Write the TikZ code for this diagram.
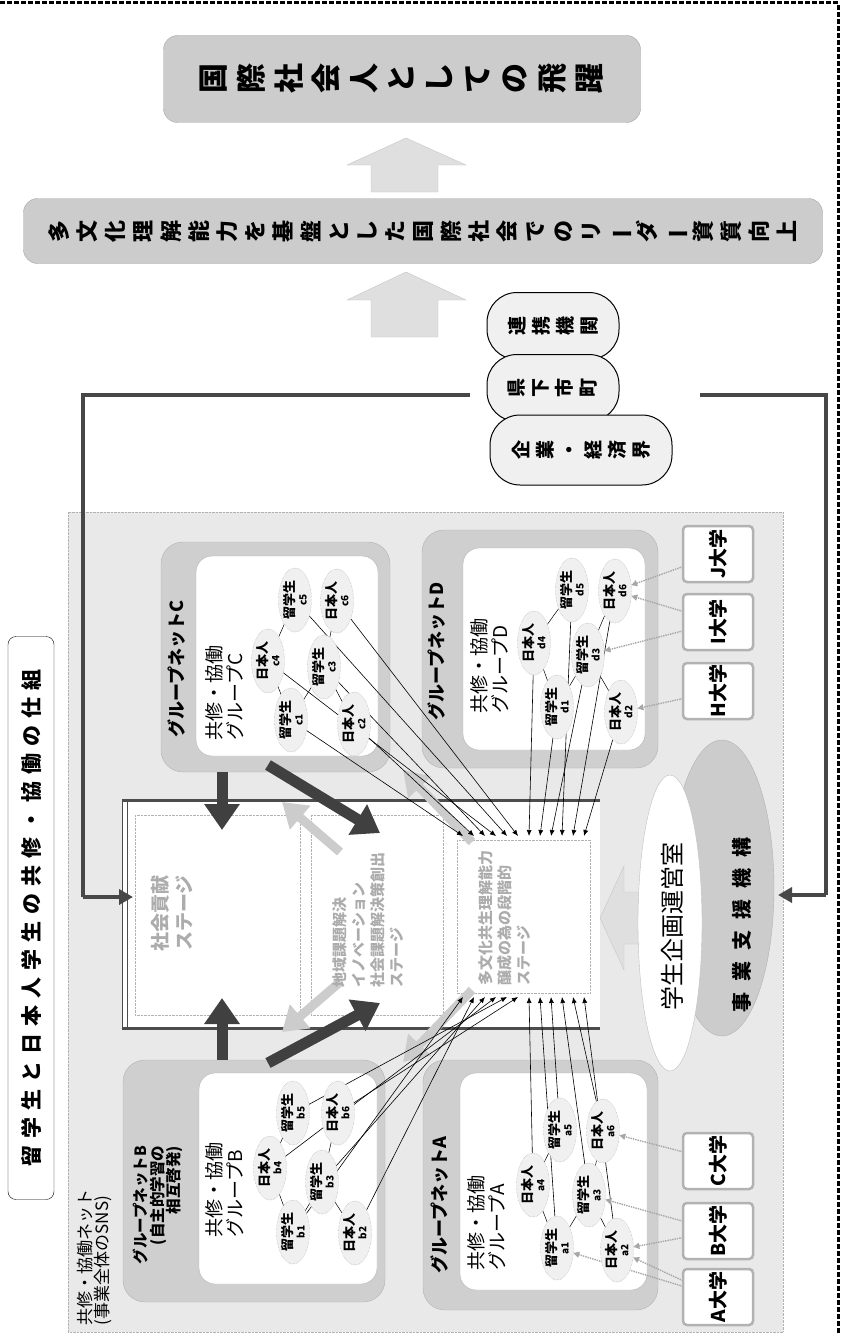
\documentclass[tikz,border=0pt]{standalone}
\usepackage{fontspec}
\setmainfont{Noto Sans CJK JP}
\usetikzlibrary{shapes.geometric,arrows.meta,calc}
\pgfdeclarelayer{bg}
\pgfdeclarelayer{mid}
\pgfsetlayers{bg,mid,main}
\newcommand{\vl}{\rotatebox[origin=c]{90}{ー}}
\newcommand{\sk}{\hspace{7pt}}
\newcommand{\skk}{\hspace{11pt}}
\begin{document}
\begin{tikzpicture}[x=1pt,y=-1pt,
  every node/.style={inner sep=0pt, outer sep=0pt},
  topbox/.style={draw=gray!70, fill=gray!40, rounded corners=14, rotate=90, align=center},
  pill/.style={draw=black, line width=1pt, fill=gray!12, rounded corners=30, rotate=90, align=center, font=\bfseries\fontsize{19}{24}\selectfont},
  gout/.style={fill=gray!38, draw=gray!60, rounded corners=22},
  gin/.style={fill=white, draw=gray!60, rounded corners=16},
  gname/.style={rotate=90, anchor=west, align=left, font=\bfseries\fontsize{18}{21}\selectfont},
  gsub/.style={rotate=90, anchor=west, align=left, font=\fontsize{19}{21}\selectfont},
  person/.style={ellipse, rotate=90, minimum width=64, minimum height=33, draw=gray!75, densely dotted, fill=gray!12, align=center, font=\bfseries\fontsize{13}{13}\selectfont},
  univ/.style={rotate=90, draw=gray!60, line width=2.5pt, fill=white, rounded corners=4, minimum width=56, minimum height=70, font=\bfseries\fontsize{19}{20}\selectfont},
  thinarr/.style={-{Latex[length=6pt,width=5pt]}, line width=0.6pt, black},
  link/.style={line width=0.5pt, black},
  uniarrow/.style={-{Triangle[length=6pt,width=6pt]}, gray!70, densely dotted, line width=1.4pt},
  dark/.style={-{Triangle[length=26pt,width=34pt]}, line width=11pt, black!75},
  light/.style={-{Triangle[length=24pt,width=30pt]}, line width=9pt, gray!40},
  bracket/.style={line width=4.5pt, black!72},
  bracketarr/.style={-{Triangle[length=14pt,width=15pt]}, line width=4.5pt, black!72},
  stagetext/.style={rotate=90, align=left, font=\bfseries\fontsize{15}{19}\selectfont, text=gray!65},
  blockarr/.style={fill=gray!25, draw=gray!45}
]
\useasboundingbox (0,0) rectangle (844,1335);

% outer border
\draw[line width=3pt, dash pattern=on 5pt off 2pt] (0,3) -- (838,3) -- (838,1335);

% ---------- top part ----------
\node[topbox, minimum width=87, minimum height=477, font=\bfseries\fontsize{30}{37.6}\selectfont] (leap) at (402,79)
  {国\\際\\社\\会\\人\\と\\し\\て\\の\\飛\\躍};
\node[topbox, minimum width=65, minimum height=799, font=\bfseries\fontsize{22}{28}\selectfont] (leader) at (423,231)
  {多\\文\\化\\理\\解\\能\\力\\を\\基\\盤\\と\\し\\た\\国\\際\\社\\会\\で\\の\\リ\\\vl\\ダ\\\vl\\資\\質\\向\\上};
\path[blockarr] (406,138) -- (466,165) -- (438,165) -- (438,192) -- (371,192) -- (371,165) -- (347,165) -- cycle;
\path[blockarr] (406,272) -- (466,300) -- (438,300) -- (438,337) -- (371,337) -- (371,300) -- (347,300) -- cycle;

\node[pill, minimum width=67, minimum height=132] (renkei) at (553,326) {連\\携\\機\\関};
\node[pill, minimum width=67, minimum height=132] (kenka) at (553,388) {県\\下\\市\\町};
\node[pill, minimum width=70, minimum height=182] (kigyo) at (581,450) {企\\業\\・\\経\\済\\界};

% title
\node[draw=black, fill=white, rounded corners=8, rotate=90, minimum width=563, minimum height=46,
      font=\bfseries\fontsize{21}{22}\selectfont] (title) at (31,918)
  {留\sk 学\sk 生\sk と\sk 日\sk 本\sk 人\sk 学\sk 生\sk の\sk 共\sk 修\sk ・\sk 協\sk 働\sk の\sk 仕\sk 組};

% ---------- background layer ----------
\begin{pgfonlayer}{bg}
  \path[fill=gray!17, draw=gray!60, densely dotted] (68,512) rectangle (783,1332);
  % groups
  \path[gout] (161,542) rectangle (390,772);
  \path[gin]  (196,556) rectangle (378,756);
  \path[gout] (422,530) rectangle (658,768);
  \path[gin]  (463,548) rectangle (645,750);
  \path[gout] (123,1060) rectangle (385,1302);
  \path[gin]  (199,1073) rectangle (377,1284);
  \path[gout] (423,1060) rectangle (658,1310);
  \path[gin]  (460,1073) rectangle (647,1290);
  % stage frame
  \fill[white] (122,800) rectangle (600,1028);
  \draw[gray!60, densely dotted] (135,815) rectangle (300,1015);
  \draw[gray!60, densely dotted] (311,815) rectangle (443,1015);
  \draw[gray!60, densely dotted] (457,840) rectangle (590,993);
  \draw[black!70] (122,800) -- (122,1028);
  \draw[black!70] (127,800) -- (127,1028);
  \draw[black!70, line width=3pt] (122,800) -- (600,800);
  \draw[black!70, line width=3pt] (122,1028) -- (600,1028);
  % support organisation
  \path[fill=gray!40, draw=gray!60] (722,888) ellipse [x radius=52, y radius=148];
  \path[blockarr] (600,918) -- (624,866) -- (624,892) -- (648,892) -- (648,944) -- (624,944) -- (624,970) -- cycle;
  \path[fill=white, draw=gray!50] (670,923) ellipse [x radius=32, y radius=148];
\end{pgfonlayer}

% stage texts
\node[stagetext, align=center, font=\bfseries\fontsize{19}{24}\selectfont] (st1) at (172,913) {社会貢献\\ステージ};
\node[stagetext] (st2) at (368,920) {地域課題解決\\イノベーション\\社会課題解決策創出\\ステージ};
\node[stagetext] (st3) at (505,918) {多文化共生理解能力\\醸成の為の段階的\\ステージ};

% support texts
\node[rotate=90, font=\fontsize{24}{24}\selectfont] (office) at (672,926) {学生企画運営室};
\node[rotate=90, font=\bfseries\fontsize{20}{20}\selectfont] (kiko) at (742,925) {事\skk 業\skk 支\skk 援\skk 機\skk 構};

% net label
\node[rotate=90, anchor=north west, align=left, font=\fontsize{17}{17}\selectfont] (snsnet) at (77,1325)
  {共修・協働ネット\\(事業全体のSNS)};

% group labels
\node[gname] (lC) at (177,737) {グループネットC};
\node[gname] (lD) at (437,720) {グループネットD};
\node[gname] (lA) at (440,1273) {グループネットA};
\node[rotate=90, anchor=center, align=right, font=\bfseries\fontsize{15.5}{16.5}\selectfont] (lB) at (158,1205)
  {グループネットB\\(自主的学習の\\相互啓発)};
\node[gsub] (sC) at (225,740) {共修・協働\\グループC};
\node[gsub] (sD) at (490,713) {共修・協働\\グループD};
\node[gsub] (sB) at (225,1237) {共修・協働\\グループB};
\node[gsub] (sA) at (487,1270) {共修・協働\\グループA};

% persons
\newcommand{\pers}[5]{\node[person] (#1) at (#2,#3) {#4\\[-1pt]{\fontsize{10}{10}\selectfont #5}};}
\pers{c1}{291}{720}{留学生}{c1}
\pers{c4}{268}{661}{日本人}{c4}
\pers{c5}{295}{600}{留学生}{c5}
\pers{c6}{337}{601}{日本人}{c6}
\pers{c3}{324}{667}{留学生}{c3}
\pers{c2}{354}{724}{日本人}{c2}
\pers{b1}{293}{1232}{留学生}{b1}
\pers{b4}{270}{1168}{日本人}{b4}
\pers{b3}{322}{1182}{留学生}{b3}
\pers{b5}{293}{1113}{留学生}{b5}
\pers{b6}{338}{1113}{日本人}{b6}
\pers{b2}{355}{1233}{日本人}{b2}
\pers{d4}{534}{643}{日本人}{d4}
\pers{d1}{557}{707}{留学生}{d1}
\pers{d5}{572}{590}{留学生}{d5}
\pers{d6}{615}{591}{日本人}{d6}
\pers{d3}{588}{655}{留学生}{d3}
\pers{d2}{621}{712}{日本人}{d2}
\pers{a4}{533}{1185}{日本人}{a4}
\pers{a1}{557}{1248}{留学生}{a1}
\pers{a5}{560}{1130}{留学生}{a5}
\pers{a6}{603}{1131}{日本人}{a6}
\pers{a3}{589}{1195}{留学生}{a3}
\pers{a2}{617}{1250}{日本人}{a2}

% universities
\node[univ] (uA) at (718,1297) {A大学};
\node[univ] (uB) at (718,1231) {B大学};
\node[univ] (uC) at (718,1161) {C大学};
\node[univ] (uH) at (718,691) {H大学};
\node[univ] (uI) at (718,622) {I大学};
\node[univ] (uJ) at (718,554) {J大学};

% coordinates
\foreach \k in {0,...,11} {
  \coordinate (t\k) at (463+11*\k,836);
  \coordinate (u\k) at (463+11*\k,997);
}
\coordinate (bl0) at (83,395);
\coordinate (bl1) at (83,897);
\coordinate (bl2) at (133,897);
\coordinate (bl3) at (470,395);
\coordinate (br0) at (700,395);
\coordinate (br1) at (826,395);
\coordinate (br2) at (826,895);
\coordinate (br3) at (778,895);
\coordinate (dC1s) at (222,772);
\coordinate (dC1e) at (222,830);
\coordinate (dB1s) at (222,1060);
\coordinate (dB1e) at (222,998);
\coordinate (dC2s) at (268,765);
\coordinate (dC2e) at (380,833);
\coordinate (dB2s) at (268,1063);
\coordinate (dB2e) at (380,1003);
\coordinate (lC2s) at (340,852);
\coordinate (lC2e) at (282,802);
\coordinate (lB2s) at (340,982);
\coordinate (lB2e) at (282,1032);
\coordinate (lC3s) at (472,842);
\coordinate (lC3e) at (403,770);
\coordinate (lB3s) at (472,990);
\coordinate (lB3e) at (403,1062);

\begin{pgfonlayer}{mid}
  % bracket
  \draw[bracket] (bl3) -- (bl0) -- (bl1);
  \draw[bracketarr] (bl1) -- (bl2);
  \draw[bracket] (br0) -- (br1) -- (br2);
  \draw[bracketarr] (br2) -- (br3);
  % light arrows
  \draw[light] (lC2s) -- (lC2e);
  \draw[light] (lB2s) -- (lB2e);
  \draw[light] (lC3s) -- (lC3e);
  \draw[light] (lB3s) -- (lB3e);
  % dark arrows
  \draw[dark] (dC1s) -- (dC1e);
  \draw[dark] (dB1s) -- (dB1e);
  \draw[dark] (dC2s) -- (dC2e);
  \draw[dark] (dB2s) -- (dB2e);
  % thin arrows to stage 3
  \foreach \n/\k in {c1/0,c2/1,c3/2,c4/3,c5/4,c6/5,d4/6,d1/7,d3/8,d5/9,d6/10,d2/11} {
    \draw[thinarr] (\n) -- (t\k);
  }
  \foreach \n/\k in {b1/0,b2/1,b3/2,b4/3,b5/4,b6/5,a4/6,a1/7,a5/8,a3/9,a6/10,a2/11} {
    \draw[thinarr] (\n) -- (u\k);
  }
  % links inside groups
  \foreach \g in {a,b,c,d} {
    \draw[link] (\g1) -- (\g4);
    \draw[link] (\g1) -- (\g3);
    \draw[link] (\g3) -- (\g6);
    \draw[link] (\g3) -- (\g2);
    \draw[link] (\g4) -- (\g5);
  }
  % universities
  \draw[uniarrow] (uA) -- (a2);
  \draw[uniarrow] (uA) -- (a1);
  \draw[uniarrow] (uB) -- (a3);
  \draw[uniarrow] (uB) -- (a2);
  \draw[uniarrow] (uC) -- (a6);
  \draw[uniarrow] (uJ) -- (d6);
  \draw[uniarrow] (uI) -- (d3);
  \draw[uniarrow] (uI) -- (d6);
  \draw[uniarrow] (uH) -- (d2);
\end{pgfonlayer}
\end{tikzpicture}
\end{document}
